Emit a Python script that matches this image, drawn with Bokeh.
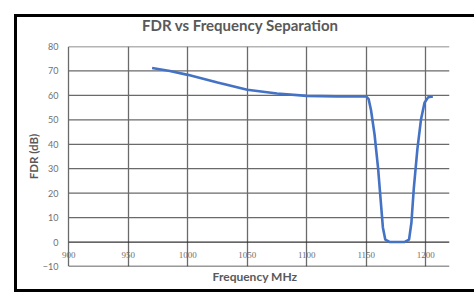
from bokeh.plotting import figure
from bokeh.models import Range1d, FixedTicker, ColumnDataSource, LabelSet, Div
from bokeh.layouts import column
from bokeh.embed import file_html
from bokeh.resources import INLINE

# Data
freq = [970, 985, 1000, 1025, 1050, 1075, 1100, 1125, 1150, 1152, 1154, 1157, 1160,
        1162, 1164, 1166, 1170, 1176, 1182, 1186, 1188, 1190, 1193, 1196, 1199, 1202, 1206]
fdr = [71.2, 70.0, 68.4, 65.3, 62.3, 60.8, 59.8, 59.6, 59.6, 58.5, 54, 44, 30,
       18, 6, 1, 0, 0, 0, 1, 8, 22, 38, 50, 57, 59.2, 59.6]
x_ticks = [900, 950, 1000, 1050, 1100, 1150, 1200]
y_ticks = [-10, 0, 10, 20, 30, 40, 50, 60, 70, 80]
x_tick_labels = [str(t) for t in x_ticks]
x_min, x_max = 900, 1220
y_min, y_max = -10, 80
title_text = "FDR vs Frequency Separation"

FONT = "Lato"
GRID = "#6a6a6a"
AXIS = "#333333"
TXT = "#595959"
TICK_TXT = "#707070"

title = Div(text=title_text, width=452, height=17, margin=(0, 0, 0, 0),
            styles={"font-family": FONT, "font-size": "15px", "font-weight": "bold",
                    "color": TXT, "line-height": "16px", "text-align": "left",
                    "padding-left": "125px", "white-space": "nowrap"})

p = figure(width=452, height=255, output_backend="svg", toolbar_location=None,
           x_range=Range1d(893, x_max), y_range=Range1d(y_min, y_max),
           min_border_left=43, min_border_right=20, min_border_top=12, min_border_bottom=23)
p.outline_line_color = None
p.background_fill_color = "white"
p.border_fill_color = "white"

# vertical grid (full height)
p.xgrid.ticker = FixedTicker(ticks=x_ticks)
p.xgrid.grid_line_color = GRID
p.xgrid.grid_line_width = 1.3
p.ygrid.grid_line_color = None

# horizontal grid lines start at 900 like the reference
hsrc = ColumnDataSource(dict(y=y_ticks, x0=[x_min] * len(y_ticks), x1=[x_max] * len(y_ticks),
                             c=[AXIS if t in (0, -10) else GRID for t in y_ticks]))
p.segment(x0="x0", y0="y", x1="x1", y1="y", source=hsrc, line_color="c", line_width=1.3)

# y axis
p.yaxis.ticker = FixedTicker(ticks=y_ticks)
p.yaxis.axis_line_color = None
p.yaxis.major_tick_line_color = None
p.yaxis.minor_tick_line_color = None
p.yaxis.major_tick_out = 0
p.yaxis.major_tick_in = 0
p.yaxis.minor_tick_out = 0
p.yaxis.minor_tick_in = 0
p.yaxis.major_label_text_font = FONT
p.yaxis.major_label_text_font_size = "9px"
p.yaxis.major_label_text_color = TICK_TXT
p.yaxis.major_label_standoff = 2
p.yaxis.axis_label = "FDR (dB)"
p.yaxis.axis_label_text_font = FONT
p.yaxis.axis_label_text_font_size = "11.5px"
p.yaxis.axis_label_text_font_style = "bold"
p.yaxis.axis_label_text_color = TXT
p.yaxis.axis_label_standoff = 0

# x axis: only the title; tick labels are drawn at y=0 like the reference
p.xaxis.ticker = FixedTicker(ticks=[])
p.xaxis.axis_line_color = None
p.xaxis.major_tick_line_color = None
p.xaxis.minor_tick_line_color = None
p.xaxis.major_tick_out = 0
p.xaxis.minor_tick_out = 0
p.xaxis.axis_label = "Frequency MHz"
p.xaxis.axis_label_text_font = FONT
p.xaxis.axis_label_text_font_size = "12px"
p.xaxis.axis_label_text_font_style = "bold"
p.xaxis.axis_label_text_color = TXT
p.xaxis.axis_label_standoff = 2

lab_src = ColumnDataSource(dict(x=x_ticks, y=[0] * len(x_ticks), t=x_tick_labels))
p.add_layout(LabelSet(x="x", y="y", text="t", source=lab_src, text_font=FONT,
                      text_font_size="9px", text_color=TICK_TXT, text_align="center",
                      text_baseline="middle", y_offset=-13))

p.line(freq, fdr, line_color="#4472C4", line_width=2.6)

layout = column(title, p, spacing=0,
                styles={"border": "3px solid black", "box-sizing": "content-box",
                        "margin-left": "14px", "margin-top": "14px",
                        "background-color": "white"})

open("out.html", "w").write(file_html(layout, INLINE))
